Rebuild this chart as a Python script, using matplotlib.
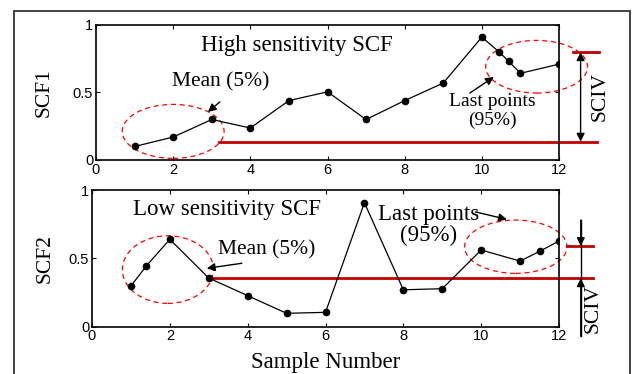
import matplotlib
matplotlib.use("Agg")
import matplotlib.pyplot as plt
from matplotlib.patches import Ellipse, Rectangle

# ---- data ----
x1 = [1, 2, 3, 4, 5, 6, 7, 8, 9, 10, 10.45, 10.7, 11, 12]
scf1 = [0.10, 0.17, 0.30, 0.237, 0.44, 0.505, 0.30, 0.44, 0.57, 0.91, 0.80, 0.73, 0.642, 0.71]
x2 = [1, 1.4, 2, 3, 4, 5, 6, 7, 8, 9, 10, 11, 11.5, 12]
scf2 = [0.298, 0.446, 0.639, 0.356, 0.227, 0.098, 0.105, 0.907, 0.27, 0.278, 0.561, 0.48, 0.551, 0.627]
mean1, last1 = 0.136, 0.798
mean2, last2 = 0.354, 0.59
xticks = [0, 2, 4, 6, 8, 10, 12]
yticks = [0, 0.5, 1]
yticklabels = ["0", "0.5", "1"]

SERIF = "Liberation Serif"
SANS = "Liberation Sans"
RED = "#c00000"

fig = plt.figure(figsize=(6.35, 3.74), dpi=100)
fig.patch.set_facecolor("white")

# outer frame
fig.patches.append(Rectangle((14/635, -0.1), (630-14)/635, 1.1 - 11/374,
                             transform=fig.transFigure, fill=False,
                             edgecolor="#333333", linewidth=1.3))

ax1 = fig.add_axes([96/635, 1-160/374, (559-96)/635, (160-25)/374])
ax2 = fig.add_axes([92/635, 1-326.7/374, (559-92)/635, (326.7-190)/374])

for ax in (ax1, ax2):
    ax.set_xlim(0, 12)
    ax.set_ylim(0, 1)
    ax.set_xticks(xticks)
    ax.set_yticks(yticks)
    ax.set_yticklabels(yticklabels)
    ax.tick_params(direction="in", length=3, width=0.8, top=True, right=True,
                   labelsize=10.5, pad=2)
    for lab in ax.get_xticklabels() + ax.get_yticklabels():
        lab.set_fontfamily(SANS)
    for s in ax.spines.values():
        s.set_linewidth(1.2)

# ---- top panel ----
ax1.plot(x1, scf1, color="black", lw=0.9, marker="o", ms=4.5, zorder=3)
ax1.plot([3.19, 12.98], [mean1, mean1], color=RED, lw=2, clip_on=False, zorder=2)
ax1.plot([12.35, 13.03], [last1, last1], color=RED, lw=2, clip_on=False, zorder=2)
ax1.annotate("", xy=(12.56, mean1), xytext=(12.56, last1),
             arrowprops=dict(arrowstyle="<|-|>", color="black", lw=1,
                             mutation_scale=12, shrinkA=0, shrinkB=0),
             annotation_clip=False)
ax1.add_patch(Ellipse((2.0, 0.212), 2.64, 0.40, fill=False, edgecolor="red",
                      ls=(0, (4, 3)), lw=0.9, clip_on=False))
ax1.add_patch(Ellipse((11.42, 0.691), 2.64, 0.39, fill=False, edgecolor="red",
                      ls=(0, (4, 3)), lw=0.9, clip_on=False))
ax1.text(5.2, 0.85, "High sensitivity SCF", family=SERIF, fontsize=16.5,
         ha="center", va="center")
ax1.text(3.24, 0.58, "Mean (5%)", family=SERIF, fontsize=15.5,
         ha="center", va="center")
ax1.annotate("", xy=(2.90, 0.356), xytext=(3.21, 0.43),
             arrowprops=dict(arrowstyle="-|>", color="black", lw=1,
                             mutation_scale=12, shrinkA=0, shrinkB=0))
ax1.text(10.27, 0.36, "Last points\n(95%)", family=SERIF, fontsize=14,
         ha="center", va="center", linespacing=1.12)
ax1.annotate("", xy=(10.31, 0.615), xytext=(9.69, 0.496),
             arrowprops=dict(arrowstyle="-|>", color="black", lw=1,
                             mutation_scale=12, shrinkA=0, shrinkB=0))
ax1.text(13.06, 0.47, "SCIV", family=SERIF, fontsize=15.5, rotation=90,
         ha="center", va="center", clip_on=False)
ax1.set_ylabel("SCF1", family=SERIF, fontsize=15.5, labelpad=14)

# ---- bottom panel ----
ax2.plot(x2, scf2, color="black", lw=0.9, marker="o", ms=4.5, zorder=3)
ax2.plot([3.1, 12.87], [mean2, mean2], color=RED, lw=2, clip_on=False, zorder=2)
ax2.plot([12.2, 12.88], [last2, last2], color=RED, lw=2, clip_on=False, zorder=2)
ax2.plot([12.56, 12.56], [-0.07, 0.78], color="black", lw=1, clip_on=False)
ax2.annotate("", xy=(12.56, last2), xytext=(12.56, 0.78),
             arrowprops=dict(arrowstyle="-|>", color="black", lw=1,
                             mutation_scale=12, shrinkA=0, shrinkB=0),
             annotation_clip=False)
ax2.annotate("", xy=(12.56, mean2), xytext=(12.56, -0.07),
             arrowprops=dict(arrowstyle="-|>", color="black", lw=1,
                             mutation_scale=12, shrinkA=0, shrinkB=0),
             annotation_clip=False)
ax2.add_patch(Ellipse((1.95, 0.418), 2.34, 0.495, fill=False, edgecolor="red",
                      ls=(0, (4, 3)), lw=0.9, clip_on=False))
ax2.add_patch(Ellipse((10.89, 0.585), 2.63, 0.39, fill=False, edgecolor="red",
                      ls=(0, (4, 3)), lw=0.9, clip_on=False))
ax2.text(3.47, 0.857, "Low sensitivity SCF", family=SERIF, fontsize=16.5,
         ha="center", va="center")
ax2.text(4.5, 0.56, "Mean (5%)", family=SERIF, fontsize=15.5,
         ha="center", va="center")
ax2.annotate("", xy=(2.95, 0.427), xytext=(3.85, 0.464),
             arrowprops=dict(arrowstyle="-|>", color="black", lw=1,
                             mutation_scale=12, shrinkA=0, shrinkB=0))
ax2.text(8.65, 0.744, "Last points\n(95%)", family=SERIF, fontsize=16.5,
         ha="center", va="center", linespacing=1.02)
ax2.annotate("", xy=(10.66, 0.785), xytext=(9.85, 0.84),
             arrowprops=dict(arrowstyle="-|>", color="black", lw=1,
                             mutation_scale=12, shrinkA=0, shrinkB=0))
ax2.text(12.88, 0.135, "SCIV", family=SERIF, fontsize=15.5, rotation=90,
         ha="center", va="center", clip_on=False)
ax2.set_ylabel("SCF2", family=SERIF, fontsize=15.5, labelpad=10)
ax2.set_xlabel("Sample Number", family=SERIF, fontsize=16.5, labelpad=6)

fig.savefig("out.png", dpi=100)
